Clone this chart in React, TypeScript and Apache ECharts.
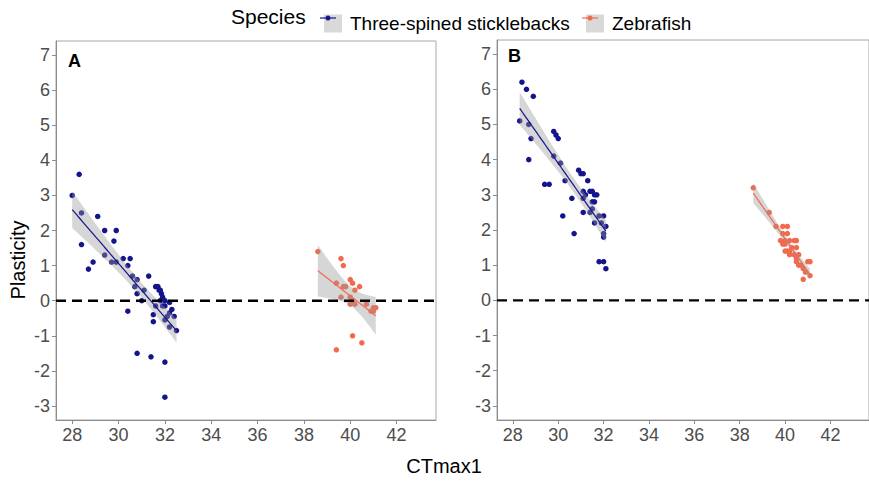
import React, { useEffect, useRef } from "react";
import * as echarts from "echarts";

const xTicks = [28, 30, 32, 34, 36, 38, 40, 42];
const yTicks = [-3, -2, -1, 0, 1, 2, 3, 4, 5, 6, 7];

const stickA: number[][] = [
  [28.0, 3.0], [28.3, 3.6], [28.4, 2.5], [28.4, 1.6], [28.7, 0.9], [28.9, 1.1], [29.1, 2.4],
  [29.4, 2.0], [29.4, 1.3], [29.8, 1.7], [29.9, 2.0], [29.7, 1.1], [29.9, 1.1], [30.2, 1.2],
  [30.5, 1.2], [30.4, 1.0], [30.6, 0.7], [30.8, 0.6], [30.7, 0.4], [30.8, 0.2], [30.4, -0.3],
  [31.0, 0.0], [31.1, 0.3], [31.3, 0.7], [30.8, -1.5], [31.4, -1.6], [31.5, -0.4], [31.5, -0.6],
  [31.6, 0.4], [31.7, 0.4], [31.75, 0.3], [31.8, 0.3], [31.85, 0.2], [31.9, 0.1], [31.6, -0.15],
  [31.9, -0.15], [32.0, -0.15], [32.0, 0.0], [31.8, 0.0], [32.0, -1.75], [32.0, -2.75],
  [32.2, -0.05], [32.3, -0.25], [32.2, -0.35], [32.1, -0.45], [32.4, -0.45], [32.2, -0.75],
  [32.5, -0.85], [32.0, -0.55],
];

const zebraA: number[][] = [
  [38.6, 1.4], [39.6, 1.2], [39.7, 1.0], [39.4, 0.5], [39.7, 0.4], [39.8, 0.4], [40.0, 0.6],
  [40.1, 0.5], [40.4, 0.4], [40.2, 0.3], [39.6, 0.1], [40.0, 0.1], [40.1, 0.0], [40.0, -0.1],
  [40.2, -0.1], [40.7, -0.1], [40.1, -1.0], [40.5, -1.2], [39.4, -1.4], [41.0, -0.2],
  [41.1, -0.2], [41.0, -0.3], [40.9, -0.3],
];

const stickB: number[][] = [
  [28.4, 6.2], [28.6, 6.0], [28.9, 5.8], [28.3, 5.1], [28.7, 5.0], [28.8, 4.6], [28.7, 4.0],
  [29.8, 4.8], [29.9, 4.7], [30.0, 4.6], [29.8, 4.1], [30.1, 3.9], [29.4, 3.3], [29.6, 3.3],
  [30.3, 3.4], [30.2, 2.4], [30.6, 2.9], [30.7, 1.9], [30.9, 3.7], [31.0, 3.6], [31.1, 3.6],
  [31.1, 3.1], [31.2, 3.0], [31.3, 3.4], [31.4, 3.1], [31.5, 3.1], [31.1, 2.9], [31.5, 2.8],
  [31.6, 2.8], [31.6, 3.0], [31.1, 2.5], [31.4, 2.5], [31.5, 2.6], [31.6, 2.2], [31.8, 2.4],
  [32.0, 2.4], [31.9, 2.2], [32.0, 1.9], [32.0, 1.8], [32.1, 2.1], [31.8, 1.1], [32.0, 1.1],
  [32.1, 0.9], [31.7, 3.0],
];

const zebraB: number[][] = [
  [38.6, 3.2], [39.3, 2.5], [39.6, 2.1], [39.9, 2.1], [40.1, 2.1], [39.8, 1.7], [39.9, 1.9],
  [40.0, 1.7], [40.1, 1.9], [40.2, 1.7], [40.4, 1.7], [40.5, 1.7], [39.9, 1.6], [40.0, 1.6],
  [40.1, 1.4], [40.2, 1.4], [40.0, 1.4], [40.3, 1.5], [40.5, 1.5], [40.2, 1.3], [40.4, 1.3],
  [40.5, 1.2], [40.6, 1.3], [40.5, 1.1], [40.6, 1.0], [40.7, 1.0], [41.0, 1.1], [41.1, 1.1],
  [40.8, 0.9], [41.1, 0.7], [40.8, 0.6], [40.9, 0.8],
];

const speciesNames = ["Three-spined sticklebacks", "Zebrafish"];
const speciesColors = ["#14148C", "#F4694C"];
const refLineY = 0;

function fit(pts: number[][]) {
  const n = pts.length;
  const mx = pts.reduce((s, p) => s + p[0], 0) / n;
  const my = pts.reduce((s, p) => s + p[1], 0) / n;
  let sxx = 0, sxy = 0;
  pts.forEach((p) => { sxx += (p[0] - mx) ** 2; sxy += (p[0] - mx) * (p[1] - my); });
  const b = sxy / sxx;
  const a = my - b * mx;
  let sse = 0;
  pts.forEach((p) => { sse += (p[1] - a - b * p[0]) ** 2; });
  const s = Math.sqrt(sse / (n - 2));
  const t = 1.96 + 2.4 / (n - 2);
  const xs = pts.map((p) => p[0]);
  const x0 = Math.min(...xs), x1 = Math.max(...xs);
  const upper: number[][] = [], lower: number[][] = [], line: number[][] = [];
  const steps = 60;
  for (let i = 0; i <= steps; i++) {
    const x = x0 + ((x1 - x0) * i) / steps;
    const yh = a + b * x;
    const se = s * Math.sqrt(1 / n + (x - mx) ** 2 / sxx);
    upper.push([x, yh + t * se]);
    lower.push([x, yh - t * se]);
    line.push([x, yh]);
  }
  return { line, band: upper.concat(lower.reverse()) };
}

const FONT = "'Liberation Sans', Arial, sans-serif";
const GREY = "#4D4D4D";

function xAxis(gridIndex: number) {
  return {
    type: "value", gridIndex, min: 27.3, max: 43.7, position: "bottom",
    axisLine: { show: true, onZero: false, lineStyle: { color: "#8C8C8C", width: 1 } },
    axisTick: { show: true, length: 4, customValues: xTicks, lineStyle: { color: "#8C8C8C" } },
    axisLabel: { customValues: xTicks, color: GREY, fontSize: 18, fontFamily: FONT, margin: 6 },
    splitLine: { show: false },
  };
}
function yAxis(gridIndex: number) {
  return {
    type: "value", gridIndex, min: -3.4, max: 7.4, position: "left",
    axisLine: { show: true, onZero: false, lineStyle: { color: "#8C8C8C", width: 1 } },
    axisTick: { show: true, length: 4, customValues: yTicks, lineStyle: { color: "#8C8C8C" } },
    axisLabel: { customValues: yTicks, color: GREY, fontSize: 18, fontFamily: FONT, margin: 6 },
    splitLine: { show: false },
  };
}

function panelSeries(idx: number, pts: number[][], sp: number) {
  const f = fit(pts);
  const color = speciesColors[sp];
  return [
    {
      type: "scatter", name: speciesNames[sp], xAxisIndex: idx, yAxisIndex: idx,
      data: pts, symbolSize: 5.5, itemStyle: { color, opacity: 1 }, z: 2,
    },
    {
      type: "custom", xAxisIndex: idx, yAxisIndex: idx, silent: true, z: 3,
      data: [[35, 2]],
      renderItem: (_p: any, api: any) => ({
        type: "polygon",
        shape: { points: f.band.map((p) => api.coord(p)) },
        style: { fill: "rgba(153,153,153,0.4)" },
      }),
    },
    {
      type: "line", name: speciesNames[sp], xAxisIndex: idx, yAxisIndex: idx,
      data: f.line, showSymbol: false, symbol: "none", z: 4,
      lineStyle: { color, width: 1.2 }, itemStyle: { color },
    },
  ];
}

function refLine(idx: number) {
  return {
    type: "line", xAxisIndex: idx, yAxisIndex: idx, silent: true, z: 5,
    data: [[27.3, refLineY], [43.7, refLineY]], showSymbol: false, symbol: "none",
    lineStyle: { color: "#000", type: [10, 6], width: 2.4 },
  };
}

export default function App() {
  const ref = useRef<HTMLDivElement>(null);
  useEffect(() => {
    if (!ref.current) return;
    const chart = echarts.init(ref.current, undefined, { renderer: "svg" });
    const keyX = [319, 581];
    const keyY = 9;
    const option: any = {
      animation: false,
      backgroundColor: "#fff",
      textStyle: { fontFamily: FONT },
      grid: [
        { left: 56, top: 41, width: 380, height: 379, show: true, borderColor: "#A6A6A6", borderWidth: 1, backgroundColor: "transparent" },
        { left: 497, top: 40, width: 380, height: 380, show: true, borderColor: "#A6A6A6", borderWidth: 1, backgroundColor: "transparent" },
      ],
      xAxis: [xAxis(0), xAxis(1)],
      yAxis: [yAxis(0), yAxis(1)],
      legend: speciesNames.map((nm, i) => ({
        data: [{ name: nm, itemStyle: { color: "#D9D9D9", borderWidth: 0 } }],
        left: keyX[i], top: keyY, icon: "rect", itemWidth: 18, itemHeight: 18,
        textStyle: { color: "#000", fontSize: 19, fontFamily: FONT, padding: [0, 0, 0, 3] },
        selectedMode: false,
      })),
      graphic: [
        { type: "text", left: 231, top: 6, style: { text: "Species", fontSize: 21, fontFamily: FONT, fill: "#000" } },
        ...speciesNames.flatMap((_, i) => [
          { type: "line", z: 100, shape: { x1: keyX[i] + 1, y1: keyY + 9, x2: keyX[i] + 17, y2: keyY + 9 }, style: { stroke: speciesColors[i], lineWidth: 1.2 } },
          { type: "circle", z: 100, shape: { cx: keyX[i] + 9, cy: keyY + 9, r: 2.5 }, style: { fill: speciesColors[i] } },
        ]),
        { type: "text", x: 68, y: 52, style: { text: "A", fontSize: 18, fontWeight: "bold", fontFamily: FONT, fill: "#000" } },
        { type: "text", x: 508, y: 47, style: { text: "B", fontSize: 18, fontWeight: "bold", fontFamily: FONT, fill: "#000" } },
        { type: "text", x: 18, y: 260, rotation: Math.PI / 2, style: { text: "Plasticity", fontSize: 20, fontFamily: FONT, fill: "#000", align: "center", verticalAlign: "middle" } },
        { type: "text", x: 444, y: 466, style: { text: "CTmax1", fontSize: 20, fontFamily: FONT, fill: "#000", align: "center", verticalAlign: "middle" } },
      ],
      series: [
        ...panelSeries(0, stickA, 0),
        ...panelSeries(0, zebraA, 1),
        ...panelSeries(1, stickB, 0),
        ...panelSeries(1, zebraB, 1),
        refLine(0),
        refLine(1),
      ],
    };
    chart.setOption(option);
    return () => chart.dispose();
  }, []);
  return (
    <div style={{ position: "fixed", left: 0, top: 0, width: 869, height: 487, background: "#fff" }}>
      <div ref={ref} style={{ width: 869, height: 487 }} />
    </div>
  );
}
